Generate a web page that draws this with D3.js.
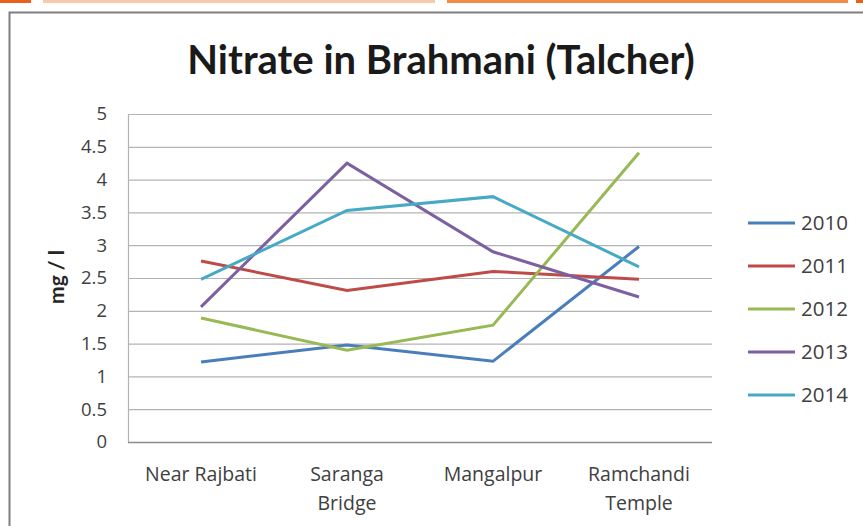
<!DOCTYPE html>
<html>
<head>
<meta charset="utf-8">
<script src="https://cdn.jsdelivr.net/npm/d3@7"></script>
<style>
body { margin: 0; background: #fff; }
text { font-family: Lato, "Open Sans", sans-serif; }
</style>
</head>
<body>
<div id="chart"></div>
<script>
// data
var categories = ["Near Rajbati", "Saranga Bridge", "Mangalpur", "Ramchandi Temple"];
var years = ["2010", "2011", "2012", "2013", "2014"];
var v2010 = [1.22, 1.48, 1.23, 2.98];
var v2011 = [2.76, 2.31, 2.60, 2.48];
var v2012 = [1.89, 1.40, 1.78, 4.41];
var v2013 = [2.06, 4.25, 2.90, 2.21];
var v2014 = [2.48, 3.53, 3.74, 2.67];
var yTicks = [0, 0.5, 1, 1.5, 2, 2.5, 3, 3.5, 4, 4.5, 5];
var colors = ["#4A7EBB", "#BE4B48", "#98B954", "#7D60A0", "#46AAC5"];

var series = [v2010, v2011, v2012, v2013, v2014];

var W = 863, H = 526;
var svg = d3.select("#chart").append("svg")
	.attr("width", W).attr("height", H);

// slide decoration on top
svg.append("rect").attr("x", 0).attr("y", 0).attr("width", 31).attr("height", 3).attr("fill", "#E8601C");
svg.append("rect").attr("x", 43).attr("y", 0).attr("width", 392).attr("height", 3).attr("fill", "#F9C9AE");
svg.append("rect").attr("x", 447).attr("y", 0).attr("width", 401).attr("height", 3).attr("fill", "#F28C45");
svg.append("rect").attr("x", 856).attr("y", 0).attr("width", 7).attr("height", 3).attr("fill", "#E8601C");

// chart frame
svg.append("path")
	.attr("d", "M9.5," + (H + 5) + "V12.5H" + (W + 5))
	.attr("fill", "none").attr("stroke", "#7f7f7f").attr("stroke-width", 2);

var m = {left: 128, top: 114, right: 712, bottom: 442};

var x = d3.scaleBand().domain(categories).range([m.left, m.right]);
var y = d3.scaleLinear().domain([0, 5]).range([m.bottom, m.top]);

// grid
svg.append("g").selectAll("line").data(yTicks).join("line")
	.attr("x1", m.left).attr("x2", m.right)
	.attr("y1", function(d) { return y(d) + 0.5; })
	.attr("y2", function(d) { return y(d) + 0.5; })
	.attr("stroke", function(d) { return d == 0 ? "#8c8c8c" : "#b3b3b3"; })
	.attr("stroke-width", function(d) { return d == 0 ? 1.5 : 1.2; });
svg.append("line")
	.attr("x1", m.left + 0.5).attr("x2", m.left + 0.5)
	.attr("y1", m.top).attr("y2", m.bottom)
	.attr("stroke", "#b3b3b3").attr("stroke-width", 1.2);

// y axis labels
var yAxis = d3.axisLeft(y).tickValues(yTicks).tickSize(0).tickPadding(21)
	.tickFormat(function(d) { return d; });
var gy = svg.append("g").attr("transform", "translate(" + m.left + ",0)").call(yAxis);
gy.select(".domain").remove();
gy.selectAll("text").attr("font-size", 18.5).attr("fill", "#404040")
	.style("font-family", "'Open Sans', sans-serif");

// x axis labels
var xAxis = d3.axisBottom(x).tickSize(0).tickPadding(0);
var gx = svg.append("g").attr("transform", "translate(0," + m.bottom + ")").call(xAxis);
gx.select(".domain").remove();
gx.selectAll("text").each(function(d) {
	var t = d3.select(this).text("").attr("font-size", 19.5).attr("fill", "#404040")
		.attr("y", 0).attr("dy", 0)
		.style("font-family", "'Open Sans', sans-serif");
	var words = d.split(" ");
	var lines = (d == "Near Rajbati") ? [d] : words;
	lines.forEach(function(w, i) {
		t.append("tspan").attr("x", 0).attr("y", 39 + i * 29).text(w);
	});
});

// axis title
svg.append("text")
	.attr("transform", "translate(64,277) rotate(-90)")
	.attr("text-anchor", "middle")
	.attr("font-size", 21).attr("font-weight", "bold").attr("fill", "#262626")
	.text("mg / l");

// title
svg.append("text")
	.attr("x", 441).attr("y", 74)
	.attr("text-anchor", "middle")
	.attr("font-size", 40).attr("font-weight", "bold").attr("fill", "#1a1a1a")
	.text("Nitrate in Brahmani (Talcher)");

// lines
var line = d3.line()
	.x(function(d, i) { return x(categories[i]) + x.bandwidth() / 2; })
	.y(function(d) { return y(d); });

svg.append("g").selectAll("path").data(series).join("path")
	.attr("d", line)
	.attr("fill", "none")
	.attr("stroke", function(d, i) { return colors[i]; })
	.attr("stroke-width", 3);

// legend
var lg = svg.append("g").selectAll("g").data(years).join("g")
	.attr("transform", function(d, i) { return "translate(748," + (223 + i * 43) + ")"; });
lg.append("line").attr("x1", 0).attr("x2", 47).attr("y1", 0).attr("y2", 0)
	.attr("stroke", function(d, i) { return colors[i]; }).attr("stroke-width", 3);
lg.append("text").attr("x", 53).attr("y", 0).attr("dy", "0.35em")
	.attr("font-size", 20.5).attr("fill", "#404040")
	.style("font-family", "'Open Sans', sans-serif")
	.text(function(d) { return d; });
</script>
</body>
</html>
